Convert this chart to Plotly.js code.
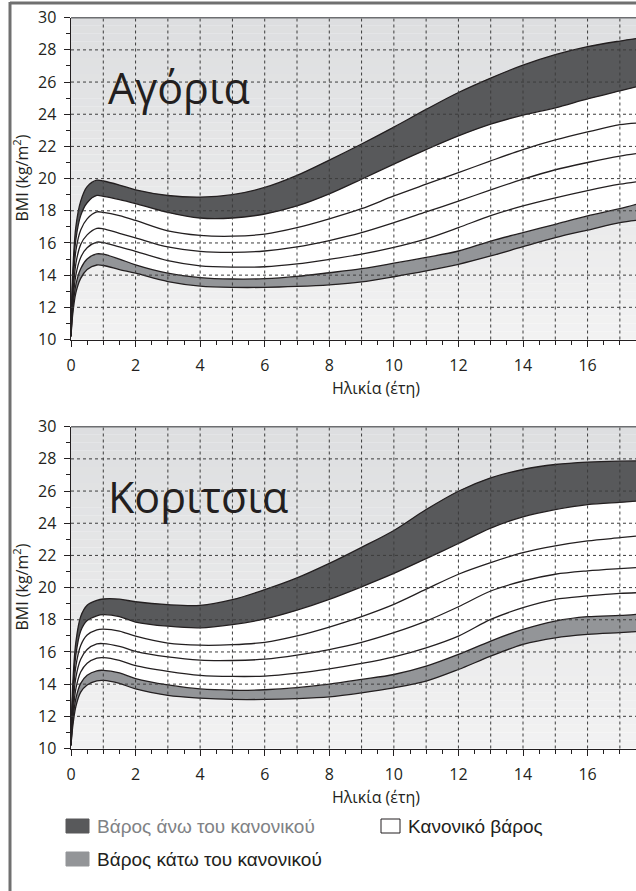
<!DOCTYPE html>
<html><head><meta charset="utf-8">
<script src="https://cdn.plot.ly/plotly-3.0.1.min.js"></script>
<style>html,body{margin:0;padding:0;background:#fff}#chart{width:636px;height:891px}</style>
</head><body><div id="chart"></div>
<script>
// ---- DATA ----
const ages = [0, 0.05, 0.15, 0.3, 0.5, 0.8, 1, 1.5, 2, 3, 4, 5, 6, 7, 8, 9, 10, 11, 12, 13, 14, 15, 16, 17, 17.5];

const boysOverTop     = [10.2, 14.0, 17.0, 18.6, 19.5, 19.9, 19.85, 19.6, 19.3, 18.95, 18.85, 19.0, 19.45, 20.2, 21.15, 22.15, 23.2, 24.3, 25.35, 26.25, 27.05, 27.7, 28.2, 28.55, 28.7];
const boysOverBottom  = [10.2, 13.5, 16.2, 17.7, 18.5, 18.95, 18.9, 18.7, 18.45, 17.9, 17.55, 17.55, 17.8, 18.3, 19.05, 19.96, 20.9, 21.8, 22.65, 23.38, 23.95, 24.4, 24.95, 25.45, 25.7];
const boysMid1        = [10.2, 13.0, 15.5, 16.8, 17.5, 17.93, 17.9, 17.7, 17.4, 16.75, 16.47, 16.42, 16.55, 16.95, 17.5, 18.13, 18.92, 19.65, 20.37, 21.1, 21.8, 22.4, 22.9, 23.35, 23.45];
const boysMid2        = [10.2, 12.5, 14.7, 15.9, 16.5, 16.9, 16.88, 16.6, 16.32, 15.75, 15.48, 15.42, 15.5, 15.75, 16.15, 16.64, 17.26, 17.93, 18.6, 19.3, 19.96, 20.55, 21.0, 21.4, 21.55];
const boysMid3        = [10.2, 12.1, 14.0, 15.1, 15.7, 16.05, 16.02, 15.75, 15.48, 14.9, 14.58, 14.5, 14.52, 14.7, 14.98, 15.3, 15.72, 16.25, 16.95, 17.7, 18.3, 18.8, 19.25, 19.65, 19.8];
const boysUnderTop    = [10.2, 11.8, 13.4, 14.4, 15.0, 15.32, 15.3, 15.0, 14.64, 14.12, 13.85, 13.76, 13.78, 13.92, 14.15, 14.4, 14.74, 15.1, 15.5, 16.12, 16.64, 17.16, 17.68, 18.13, 18.4];
const boysUnderBottom = [10.2, 11.5, 12.9, 13.8, 14.35, 14.63, 14.6, 14.35, 14.12, 13.6, 13.32, 13.24, 13.24, 13.3, 13.4, 13.58, 13.9, 14.26, 14.67, 15.19, 15.77, 16.33, 16.8, 17.26, 17.4];

const girlsOverTop     = [10.2, 13.8, 16.6, 18.2, 18.9, 19.2, 19.29, 19.28, 19.12, 18.94, 18.9, 19.25, 19.87, 20.6, 21.5, 22.5, 23.55, 24.85, 25.99, 26.82, 27.34, 27.65, 27.8, 27.86, 27.87];
const girlsOverBottom  = [10.2, 13.2, 15.8, 17.3, 17.95, 18.25, 18.32, 18.2, 17.86, 17.6, 17.5, 17.7, 18.05, 18.6, 19.27, 20.05, 20.88, 21.8, 22.74, 23.7, 24.4, 24.85, 25.16, 25.3, 25.37];
const girlsMid1        = [10.2, 12.8, 15.1, 16.4, 17.05, 17.38, 17.42, 17.3, 16.98, 16.55, 16.42, 16.45, 16.6, 17.0, 17.55, 18.2, 18.96, 19.9, 20.83, 21.55, 22.17, 22.59, 22.9, 23.1, 23.2];
const girlsMid2        = [10.2, 12.3, 14.4, 15.55, 16.15, 16.5, 16.52, 16.35, 16.04, 15.69, 15.49, 15.47, 15.55, 15.8, 16.15, 16.6, 17.2, 17.92, 18.81, 19.79, 20.41, 20.83, 21.04, 21.18, 21.24];
const girlsMid3        = [10.2, 11.9, 13.7, 14.75, 15.3, 15.62, 15.65, 15.48, 15.15, 14.8, 14.55, 14.48, 14.5, 14.68, 14.95, 15.29, 15.7, 16.26, 16.99, 18.02, 18.75, 19.27, 19.48, 19.64, 19.68];
const girlsUnderTop    = [10.2, 11.6, 13.1, 14.05, 14.55, 14.83, 14.86, 14.7, 14.35, 13.95, 13.7, 13.62, 13.65, 13.78, 14.0, 14.29, 14.6, 15.12, 15.85, 16.68, 17.4, 17.92, 18.19, 18.27, 18.34];
const girlsUnderBottom = [10.2, 11.3, 12.6, 13.5, 13.95, 14.2, 14.23, 14.05, 13.7, 13.3, 13.13, 13.05, 13.05, 13.1, 13.21, 13.46, 13.77, 14.19, 14.91, 15.74, 16.47, 16.88, 17.09, 17.2, 17.26];

const chartTitles = ['Αγόρια', 'Κοριτσια'];
const xTitle = 'Ηλικία (έτη)';
const yTitle = 'BMI (kg/m<sup>2</sup>)';
const xTickVals = [0, 2, 4, 6, 8, 10, 12, 14, 16];
const yTickVals = [10, 12, 14, 16, 18, 20, 22, 24, 26, 28, 30];
const gridX = [1,2,3,4,5,6,7,8,9,10,11,12,13,14,15,16,17];
const gridY = [12,14,16,18,20,22,24,26,28];
const legendLabels = ['Βάρος άνω του κανονικού', 'Κανονικό βάρος', 'Βάρος κάτω του κανονικού'];

// ---- STYLE ----
const INK = '#231f20';
const DARK = '#58595b';
const GRAY = '#939598';
const W = 636, H = 891;
const px = v => v / W;
const py = v => 1 - v / H;

const lineStyle = {color: INK, width: 1.3, shape: 'spline', smoothing: 0.9};

function groupTraces(xa, ya, s) {
  const base = {x: ages, xaxis: xa, yaxis: ya, mode: 'lines', line: lineStyle, hoverinfo: 'skip', showlegend: false};
  return [
    Object.assign({}, base, {y: s.underBottom}),
    Object.assign({}, base, {y: s.underTop, fill: 'tonexty', fillcolor: GRAY}),
    Object.assign({}, base, {y: s.overBottom, fill: 'tonexty', fillcolor: '#ffffff'}),
    Object.assign({}, base, {y: s.overTop, fill: 'tonexty', fillcolor: DARK}),
    Object.assign({}, base, {y: s.mid1}),
    Object.assign({}, base, {y: s.mid2}),
    Object.assign({}, base, {y: s.mid3})
  ];
}

const data = [].concat(
  groupTraces('x', 'y', {overTop: boysOverTop, overBottom: boysOverBottom, mid1: boysMid1, mid2: boysMid2, mid3: boysMid3, underTop: boysUnderTop, underBottom: boysUnderBottom}),
  groupTraces('x2', 'y2', {overTop: girlsOverTop, overBottom: girlsOverBottom, mid1: girlsMid1, mid2: girlsMid2, mid3: girlsMid3, underTop: girlsUnderTop, underBottom: girlsUnderBottom})
);

const tickFont = {family: 'Open Sans, sans-serif', size: 16, color: INK};

function xAxis(anchor) {
  return {
    anchor: anchor, domain: [px(71), 1], range: [0, 17.5], fixedrange: true,
    tickmode: 'array', tickvals: xTickVals,
    ticks: 'outside', ticklen: 6, tickwidth: 1, tickcolor: INK,
    minor: {tickmode: 'linear', tick0: 0, dtick: 0.5, ticks: 'outside', ticklen: 4, tickcolor: INK, tickwidth: 1, showgrid: false},
    showgrid: false, zeroline: false, showline: true, linecolor: INK, linewidth: 1.5,
    tickfont: tickFont, ticklabelstandoff: 5
  };
}
function yAxis(anchor, top, bottom) {
  return {
    anchor: anchor, domain: [py(bottom), py(top)], range: [10, 30], fixedrange: true,
    tickmode: 'array', tickvals: yTickVals,
    ticks: 'outside', ticklen: 6, tickwidth: 1, tickcolor: INK,
    minor: {tickmode: 'linear', tick0: 10, dtick: 1, ticks: 'outside', ticklen: 4, tickcolor: INK, tickwidth: 1, showgrid: false},
    showgrid: false, zeroline: false, showline: true, linecolor: INK, linewidth: 1.5,
    tickfont: tickFont, ticklabelstandoff: 4
  };
}

const plots = [
  {xa: 'x', ya: 'y', top: 17.7, bottom: 339.5},
  {xa: 'x2', ya: 'y2', top: 426.7, bottom: 748.5}
];

const shapes = [];
const annotations = [];
plots.forEach((p, i) => {
  const xd = p.xa + ' domain', yd = p.ya + ' domain';
  // background gradient
  const N = 40;
  for (let k = 0; k < N; k++) {
    const t = k / (N - 1);
    const c0 = [221, 222, 224], c1 = [242, 242, 242];
    const c = c0.map((v, j) => Math.round(v + (c1[j] - v) * t));
    shapes.push({type: 'rect', xref: xd, yref: yd, x0: 0, x1: 1, y0: 1 - (k + 1) / N, y1: 1 - k / N,
      fillcolor: 'rgb(' + c.join(',') + ')', line: {width: 0}, layer: 'below'});
  }
  gridX.forEach(g => shapes.push({type: 'line', xref: p.xa, yref: yd, x0: g, x1: g, y0: 0, y1: 1, layer: 'above',
    line: {color: '#3c3c3c', width: 1, dash: 'dot'}}));
  gridY.forEach(g => shapes.push({type: 'line', xref: xd, yref: p.ya, x0: 0, x1: 1, y0: g, y1: g, layer: 'above',
    line: {color: '#3c3c3c', width: 1, dash: 'dot'}}));
  shapes.push({type: 'line', xref: xd, yref: yd, x0: 0, x1: 1, y0: 1, y1: 1, layer: 'above', line: {color: '#6d6e71', width: 1.5}});
  // titles
  annotations.push({xref: 'paper', yref: 'paper', x: px(106), y: py(p.top + 70), xanchor: 'left', yanchor: 'middle',
    text: chartTitles[i], showarrow: false, font: {family: 'Open Sans, sans-serif', size: 43, color: INK}});
  annotations.push({xref: 'paper', yref: 'paper', x: px(376), y: py(p.bottom + 48), xanchor: 'center', yanchor: 'middle',
    text: xTitle, showarrow: false, font: {family: 'Open Sans, sans-serif', size: 16, color: INK}});
  annotations.push({xref: 'paper', yref: 'paper', x: px(21), y: py((p.top + p.bottom) / 2), xanchor: 'center', yanchor: 'middle',
    text: yTitle, textangle: -90, showarrow: false, font: {family: 'Open Sans, sans-serif', size: 16, color: INK}});
});

// frame
shapes.push({type: 'line', xref: 'paper', yref: 'paper', x0: px(10), x1: px(10), y0: 0, y1: py(2), line: {color: '#707070', width: 3}});
shapes.push({type: 'line', xref: 'paper', yref: 'paper', x0: px(10), x1: 1, y0: py(3), y1: py(3), line: {color: '#707070', width: 3}});

// legend
const legendItems = [
  {x: 66, y: 826, fill: DARK, border: DARK, text: legendLabels[0], color: '#808285'},
  {x: 381, y: 826, fill: '#ffffff', border: INK, text: legendLabels[1], color: INK},
  {x: 66, y: 859, fill: GRAY, border: GRAY, text: legendLabels[2], color: INK}
];
legendItems.forEach(it => {
  const w = it.fill === '#ffffff' ? 19 : 23;
  shapes.push({type: 'rect', xref: 'paper', yref: 'paper', x0: px(it.x), x1: px(it.x + w), y0: py(it.y + 7), y1: py(it.y - 7),
    fillcolor: it.fill, line: {color: it.border, width: 1}});
  annotations.push({xref: 'paper', yref: 'paper', x: px(it.x + w + 6), y: py(it.y), xanchor: 'left', yanchor: 'middle',
    text: it.text, showarrow: false, font: {family: 'Liberation Sans, Arial, sans-serif', size: 19, color: it.color}});
});

const layout = {
  width: W, height: H, margin: {l: 0, r: 0, t: 0, b: 0},
  paper_bgcolor: '#ffffff', plot_bgcolor: 'rgba(0,0,0,0)', showlegend: false,
  xaxis: xAxis('y'), yaxis: yAxis('x', plots[0].top, plots[0].bottom),
  xaxis2: xAxis('y2'), yaxis2: yAxis('x2', plots[1].top, plots[1].bottom),
  shapes: shapes, annotations: annotations
};

Plotly.newPlot('chart', data, layout, {staticPlot: true, displayModeBar: false});
</script></body></html>
